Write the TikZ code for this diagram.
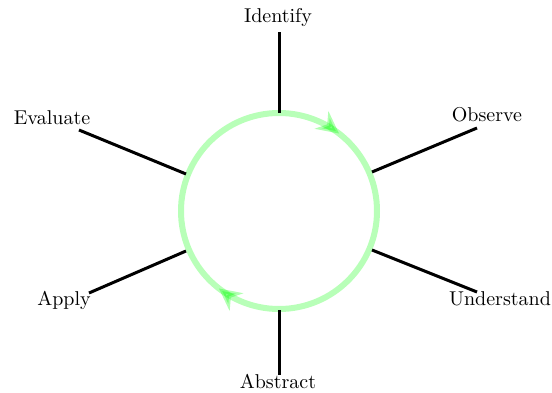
\documentclass[tikz,border=0pt]{standalone}
\usetikzlibrary{arrows.meta,decorations.markings}
\begin{document}
\begin{tikzpicture}[x=0.5pt,y=0.5pt,
  spoke/.style={line width=1.5pt},
  lbl/.style={inner sep=0pt,font=\normalsize},
  cyclearrow/.style={draw=green,draw opacity=0.28,line width=3pt,
    postaction={decorate,decoration={markings,
      mark=at position 0.105 with {\arrow[green,opacity=0.3]{Stealth[length=11pt,width=11pt,inset=3.5pt]}},
      mark=at position 0.605 with {\arrow[green,opacity=0.3]{Stealth[length=11pt,width=11pt,inset=3.5pt]}}}}}]
\useasboundingbox (0,0) rectangle (552,392);
\coordinate (c) at (279,181);
% circle, clockwise, starting at top
\draw[cyclearrow] (279,279) arc[start angle=90,end angle=-270,radius=98];
% labels
\node[lbl] (identify) at (278,374) {Identify};
\node[lbl] (observe) at (487,277) {Observe};
\node[lbl] (understand) at (500,93) {Understand};
\node[lbl] (abstract) at (278,11) {Abstract};
\node[lbl] (apply) at (64,92) {Apply};
\node[lbl] (evaluate) at (52,274) {Evaluate};
% spoke ends
\coordinate (i1) at (279,279); \coordinate (i2) at (279,360);
\coordinate (o1) at (372,220); \coordinate (o2) at (477,264);
\coordinate (u1) at (372,142); \coordinate (u2) at (477,100);
\coordinate (a1) at (279,82);  \coordinate (a2) at (279,17);
\coordinate (p1) at (186,141); \coordinate (p2) at (89,99);
\coordinate (e1) at (186,218); \coordinate (e2) at (79,262);
\draw[spoke] (i1) -- (i2);
\draw[spoke] (o1) -- (o2);
\draw[spoke] (u1) -- (u2);
\draw[spoke] (a1) -- (a2);
\draw[spoke] (p1) -- (p2);
\draw[spoke] (e1) -- (e2);
\end{tikzpicture}
\end{document}
